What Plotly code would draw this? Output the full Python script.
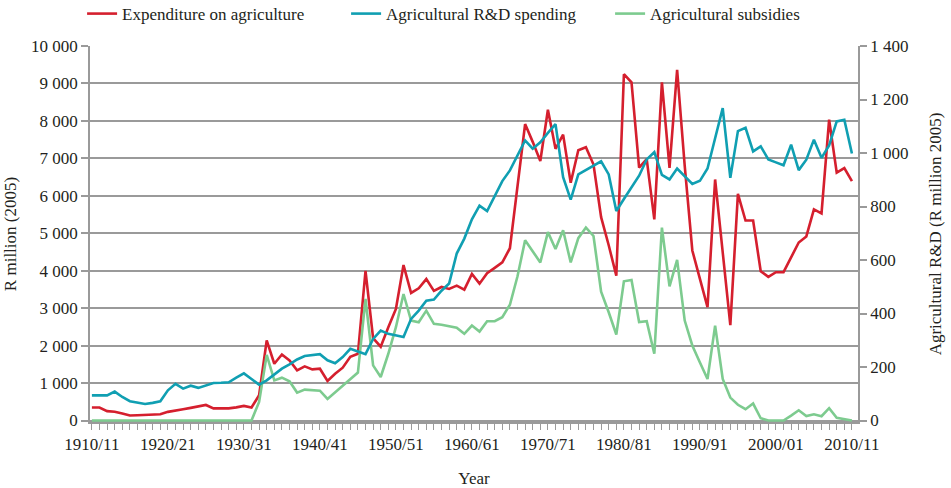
import plotly.graph_objects as go

years = list(range(1910, 2011))

expenditure = [
    346, 346, 250, 235, 190, 135, 140, 150, 158, 165,
    231, 257, 300, 337, 372, 415, 325, 325, 325, 350,
    390, 346, 674, 2137, 1516, 1764, 1605, 1339, 1445, 1366,
    1383, 1055, 1250, 1410, 1700, 1782, 3998, 2200, 1970, 2492,
    2979, 4150, 3405, 3530, 3777, 3460, 3565, 3512, 3600, 3495,
    3911, 3654, 3933, 4075, 4221, 4600, 6260, 7915, 7440, 6930,
    8299, 7254, 7634, 6348, 7216, 7296, 6835, 5430, 4680, 3865,
    9247, 9030, 6750, 6980, 5372, 9030, 6747, 9362, 6800, 4540,
    3780, 3027, 6436, 4400, 2545, 6050, 5340, 5340, 3985, 3835,
    3960, 3960, 4360, 4753, 4915, 5638, 5532, 8032, 6620, 6740, 6391,
]

rd_spending = [
    94, 94, 94, 108, 88, 72, 67, 62, 66, 72,
    113, 137, 119, 130, 122, 132, 140, 141, 143, 160,
    176, 155, 134, 150, 172, 194, 210, 228, 241, 245,
    248, 225, 214, 237, 268, 258, 248, 305, 336, 324,
    318, 312, 380, 411, 448, 452, 485, 512, 624, 680,
    752, 803, 783, 842, 895, 935, 990, 1047, 1016, 1040,
    1075, 1108, 910, 826, 920, 936, 952, 969, 920, 783,
    828, 870, 915, 976, 1003, 918, 901, 942, 912, 884,
    896, 942, 1055, 1168, 907, 1082, 1094, 1006, 1025, 976,
    965, 954, 1031, 936, 975, 1050, 982, 1028, 1118, 1124, 998,
]

subsidies = [
    0, 0, 0, 0, 0, 0, 0, 0, 0, 0,
    0, 0, 0, 0, 0, 0, 0, 0, 0, 0,
    0, 0, 497, 1750, 1072, 1144, 1046, 745, 825, 812,
    795, 575, 750, 920, 1090, 1280, 3245, 1471, 1162, 1782,
    2492, 3378, 2668, 2625, 2934, 2580, 2555, 2510, 2480, 2314,
    2535, 2375, 2652, 2652, 2758, 3090, 3850, 4814, 4520, 4221,
    5030, 4580, 5080, 4221, 4870, 5152, 4928, 3439, 2891, 2296,
    3716, 3750, 2630, 2652, 1782, 5152, 3582, 4290, 2668, 2003,
    1550, 1108, 2535, 1108, 612, 420, 301, 452, 60, 0,
    0, 0, 130, 274, 120, 165, 115, 330, 71, 30, 0,
]

tick_years = [1910, 1920, 1930, 1940, 1950, 1960, 1970, 1980, 1990, 2000, 2010]
tick_labels = ["1910/11", "1920/21", "1930/31", "1940/41", "1950/51", "1960/61",
               "1970/71", "1980/81", "1990/91", "2000/01", "2010/11"]

RED = "#d51f2e"
TEAL = "#109fb2"
GREEN = "#7dcb8f"
GRID = "#9a9a9a"
TXT = "#231f20"
FONT = "Liberation Serif"

fig = go.Figure()
fig.add_trace(go.Scatter(x=years, y=expenditure, name="Expenditure on agriculture",
                         mode="lines", line=dict(color=RED, width=2.6)))
fig.add_trace(go.Scatter(x=years, y=rd_spending, name="Agricultural R&D spending",
                         mode="lines", line=dict(color=TEAL, width=2.6), yaxis="y2"))
fig.add_trace(go.Scatter(x=years, y=subsidies, name="Agricultural subsidies",
                         mode="lines", line=dict(color=GREEN, width=2.6)))

fig.update_layout(
    width=951, height=488,
    margin=dict(l=90, r=93, t=46, b=66, autoexpand=False),
    paper_bgcolor="white", plot_bgcolor="white",
    font=dict(family=FONT, size=17, color=TXT),
    separators=". ",
    showlegend=True,
    legend=dict(orientation="h", x=-0.0103, y=1.085, xanchor="left", yanchor="middle",
                font=dict(size=17), entrywidth=219, entrywidthmode="pixels",
                itemwidth=30, bgcolor="rgba(0,0,0,0)"),
    xaxis=dict(range=[1909.75, 2010.8], tickvals=tick_years, ticktext=tick_labels,
               showgrid=False, zeroline=False, showline=True, linecolor=GRID, linewidth=1.5,
               ticks="outside", ticklen=6, tickcolor=GRID, tickwidth=1,
               minor=dict(dtick=1, tick0=1910, ticks="outside", ticklen=6, tickcolor=GRID, tickwidth=1),
               title=dict(text="Year", standoff=22, font=dict(size=17)),
               tickfont=dict(size=17)),
    yaxis=dict(range=[-40, 10000], tick0=0, dtick=1000, tickformat=",d",
               showgrid=True, gridcolor=GRID, gridwidth=1.5, zeroline=False,
               showline=True, linecolor=GRID, linewidth=1.5,
               ticks="outside", ticklen=7, tickcolor=GRID, tickwidth=1.5,
               title=dict(text="R million (2005)", standoff=10, font=dict(size=17)),
               tickfont=dict(size=17)),
    yaxis2=dict(range=[-5.6, 1400], tick0=0, dtick=200, tickformat=",d", overlaying="y", side="right",
                showgrid=False, zeroline=False, showline=True, linecolor=GRID, linewidth=1.5,
                ticks="outside", ticklen=7, tickcolor=GRID, tickwidth=1.5,
                title=dict(text="Agricultural R&D (R million 2005)", standoff=22, font=dict(size=17)),
                tickfont=dict(size=17)),
)

fig.write_html("out.html", config={"displayModeBar": False},
               post_script="document.body.style.margin='0px';document.body.style.overflow='hidden';")
